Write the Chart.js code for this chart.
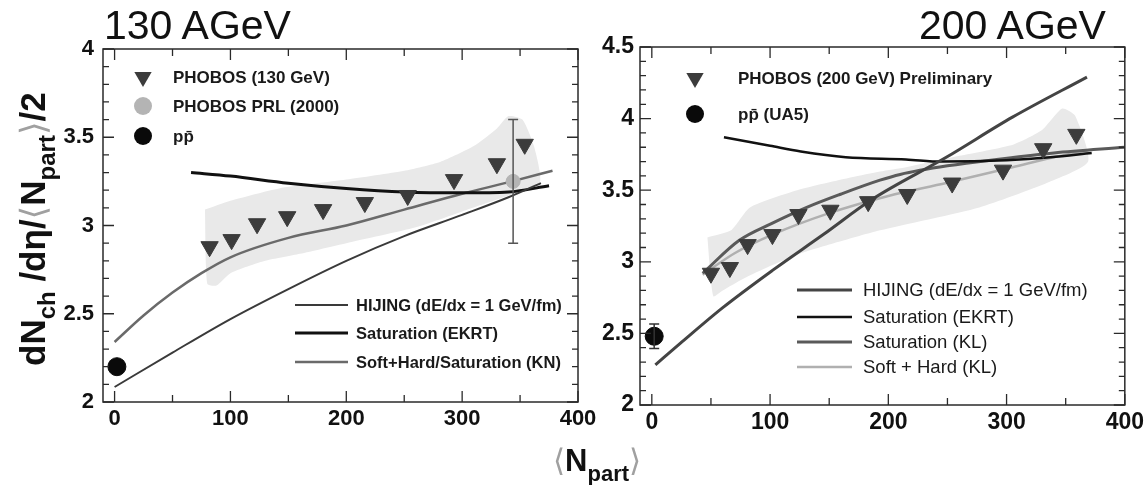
<!DOCTYPE html>
<html>
<head>
<meta charset="utf-8">
<script src="https://cdn.jsdelivr.net/npm/chart.js@4.4.0/dist/chart.umd.min.js"></script>
<style>
  body { margin: 0; background: #fff; width: 1148px; height: 485px; overflow: hidden; position: relative;
         font-family: "Liberation Sans", Arial, sans-serif; color: #111; }
  canvas { position: absolute; top: 0; }
  #c130 { left: 0; }
  #c200 { left: 580px; }
  .ptitle { position: absolute; font-size: 41px; line-height: 1; white-space: nowrap; color: #111; }
  .atitle { position: absolute; font-weight: bold; line-height: 1; white-space: nowrap; color: #111; }
  .ang { font-weight: normal; color: #a0a0a0; font-family: "DejaVu Sans", sans-serif; }
  #ytitle { left: 15px; top: 366px; font-size: 35px; transform: rotate(-90deg); transform-origin: left top; }
  #ytitle .sub { font-size: 24px; vertical-align: -10px; }
  #xtitle { left: 553px; top: 445px; font-size: 31px; }
  #xtitle .sub { font-size: 22px; vertical-align: -10px; }
</style>
</head>
<body>
<canvas id="c130" width="620" height="485"></canvas>
<canvas id="c200" width="568" height="485"></canvas>
<div class="ptitle" style="left:104px; top:5px;">130 AGeV</div>
<div class="ptitle" style="left:919px; top:5px;">200 AGeV</div>
<div id="ytitle" class="atitle">dN<span class="sub">ch</span> /dη/<span class="ang">⟨</span>N<span class="sub">part</span><span class="ang">⟩</span>/2</div>
<div id="xtitle" class="atitle"><span class="ang">⟨</span>N<span class="sub">part</span><span class="ang">⟩</span></div>
<script>
// ---------- 130 AGeV ----------
var npart130 = [82, 101, 123, 149, 180, 216, 253, 293, 330, 354];
var phobos130 = [2.88, 2.92, 3.01, 3.05, 3.09, 3.13, 3.17, 3.26, 3.35, 3.46];
var npartPrl = [344];
var phobosPrl = [3.25];
var phobosPrlErr = [0.35];
var npartPp = [2];
var ppbar130 = [2.20];

// systematic band (upper edge left->right, lower edge right->left)
var bandX130 = [78, 100, 142, 200, 250, 281, 310, 330, 340, 352, 362, 367, 340, 300, 260, 200, 160, 130, 100, 88, 80, 78];
var bandY130 = [3.09, 3.14, 3.21, 3.26, 3.31, 3.36, 3.45, 3.55, 3.62, 3.60, 3.45, 3.24, 3.17, 3.08, 2.99, 2.90, 2.84, 2.80, 2.73, 2.66, 2.67, 3.09];

var hijingX130 = [0, 50, 100, 150, 200, 250, 300, 340, 368];
var hijing130 = [2.085, 2.28, 2.47, 2.64, 2.80, 2.94, 3.06, 3.16, 3.24];
var ekrtX130 = [66, 100, 150, 200, 250, 300, 340, 375];
var ekrt130 = [3.30, 3.28, 3.24, 3.21, 3.19, 3.185, 3.19, 3.225];
var knX130 = [0, 25, 50, 75, 100, 150, 200, 250, 300, 343, 378];
var kn130 = [2.34, 2.49, 2.62, 2.73, 2.82, 2.93, 3.00, 3.09, 3.18, 3.25, 3.31];

// ---------- 200 AGeV ----------
var npart200 = [50, 66, 81, 102, 124, 151, 183, 216, 254, 297, 331, 359];
var phobos200 = [2.92, 2.96, 3.12, 3.19, 3.33, 3.36, 3.42, 3.47, 3.55, 3.64, 3.79, 3.89];
var ppbar200 = [2.48];
var ppbar200Err = [0.085];

var bandX200 = [47, 67, 83, 123, 169, 193, 215, 260, 306, 330, 347, 358, 369, 334, 277, 193, 150, 123, 100, 77, 60, 52, 47];
var bandY200 = [3.17, 3.22, 3.38, 3.50, 3.59, 3.63, 3.66, 3.74, 3.82, 3.92, 4.07, 4.02, 3.70, 3.55, 3.38, 3.22, 3.12, 3.05, 2.97, 2.88, 2.80, 2.76, 3.17];

var hijingX200 = [3, 24, 60, 102, 145, 187, 249, 305, 368];
var hijing200 = [2.28, 2.43, 2.68, 2.94, 3.19, 3.44, 3.73, 4.01, 4.29];
var ekrtX200 = [61, 100, 126, 164, 215, 245, 300, 337, 372];
var ekrt200 = [3.87, 3.81, 3.77, 3.73, 3.715, 3.70, 3.71, 3.73, 3.76];
var klSatX200 = [43, 74, 102, 131, 159, 193, 210, 250, 297, 340, 400];
var klSat200 = [2.92, 3.15, 3.27, 3.38, 3.47, 3.57, 3.61, 3.67, 3.72, 3.76, 3.80];
var softHardX200 = [43, 70, 102, 150, 200, 249, 305, 340, 370];
var softHard200 = [2.91, 3.06, 3.19, 3.34, 3.46, 3.55, 3.66, 3.73, 3.78];

// ---------- axes ----------
var xTicks = [0, 100, 200, 300, 400];
var yTicks130 = [2, 2.5, 3, 3.5, 4];
var yTicks200 = [2, 2.5, 3, 3.5, 4, 4.5];

var FONT = '"Liberation Sans", Arial, sans-serif';
Chart.defaults.font.family = FONT;

function pts(xs, ys) {
  return xs.map(function (x, i) { return {x: x, y: ys[i]}; });
}

function curve(xs, ys, color, width) {
  return {data: pts(xs, ys), borderColor: color, borderWidth: width, pointRadius: 0,
          showLine: true, fill: false, cubicInterpolationMode: 'monotone', order: 5};
}

function band(xs, ys) {
  return {data: pts(xs, ys), borderWidth: 0, borderColor: 'rgba(0,0,0,0)', backgroundColor: '#e9e9e9',
          pointRadius: 0, showLine: true, fill: 'shape', tension: 0.2, order: 10};
}

function markers(xs, ys, style, color, r) {
  return {data: pts(xs, ys), showLine: false, pointStyle: style, rotation: style === 'triangle' ? 180 : 0,
          pointRadius: r, pointBackgroundColor: color, pointBorderColor: color, pointBorderWidth: 1, order: 1};
}

function makeScales(yMin, yMax, yTicks, yWidth, yPad, fontSize) {
  var tickFont = {family: FONT, size: fontSize, weight: 'bold'};
  return {
    x: {
      type: 'linear', min: -10, max: 400,
      afterBuildTicks: function (s) { s.ticks = xTicks.map(function (v) { return {value: v}; }); },
      afterFit: function (s) { s.height = 40; },
      grid: {display: false, drawTicks: false}, border: {display: false},
      ticks: {padding: 4, font: tickFont, color: '#111', maxRotation: 0, autoSkip: false,
              callback: function (v) { return String(v); }}
    },
    y: {
      type: 'linear', min: yMin, max: yMax,
      afterBuildTicks: function (s) { s.ticks = yTicks.map(function (v) { return {value: v}; }); },
      afterFit: function (s) { s.width = yWidth; },
      grid: {display: false, drawTicks: false}, border: {display: false},
      ticks: {padding: yPad, font: tickFont, color: '#111', autoSkip: false,
              callback: function (v) { return String(v); }}
    }
  };
}

// frame, inner ticks, error bars and legend boxes
function makeDeco(cfg) {
  return {
    id: 'deco',
    afterDatasetsDraw: function (chart) {
      var ctx = chart.ctx, a = chart.chartArea, xs = chart.scales.x, ys = chart.scales.y;
      ctx.save();
      ctx.strokeStyle = '#2a2a2a';
      ctx.lineWidth = 1.5;
      ctx.strokeRect(a.left, a.top, a.right - a.left, a.bottom - a.top);
      ctx.lineWidth = 1.3;
      ctx.beginPath();
      for (var v = 0; v <= 400; v += 50) {
        var px = xs.getPixelForValue(v);
        var len = v % 100 === 0 ? 11 : 7;
        ctx.moveTo(px, a.bottom); ctx.lineTo(px, a.bottom - len);
        ctx.moveTo(px, a.top); ctx.lineTo(px, a.top + len);
      }
      for (var i = Math.round(ys.min * 10); i <= Math.round(ys.max * 10); i++) {
        var py = ys.getPixelForValue(i / 10);
        var l2 = i % 5 === 0 ? 11 : 6;
        ctx.moveTo(a.left, py); ctx.lineTo(a.left + l2, py);
        ctx.moveTo(a.right, py); ctx.lineTo(a.right - l2, py);
      }
      ctx.stroke();

      // error bars
      cfg.errors.forEach(function (e) {
        ctx.strokeStyle = e.color;
        ctx.lineWidth = e.width;
        ctx.beginPath();
        e.x.forEach(function (xv, k) {
          var px = xs.getPixelForValue(xv);
          var top = ys.getPixelForValue(e.y[k] + e.err[k]);
          var bot = ys.getPixelForValue(e.y[k] - e.err[k]);
          ctx.moveTo(px, top); ctx.lineTo(px, bot);
          ctx.moveTo(px - e.cap, top); ctx.lineTo(px + e.cap, top);
          ctx.moveTo(px - e.cap, bot); ctx.lineTo(px + e.cap, bot);
        });
        ctx.stroke();
      });

      // legends
      cfg.legend.forEach(function (it) {
        ctx.fillStyle = it.color;
        ctx.strokeStyle = it.color;
        if (it.type === 'tri') {
          var r = it.r;
          ctx.beginPath();
          ctx.moveTo(it.x, it.y + r);
          ctx.lineTo(it.x - r * 0.866, it.y - r * 0.5);
          ctx.lineTo(it.x + r * 0.866, it.y - r * 0.5);
          ctx.closePath();
          ctx.fill();
        } else if (it.type === 'circle') {
          ctx.beginPath();
          ctx.arc(it.x, it.y, it.r, 0, Math.PI * 2);
          ctx.fill();
        } else if (it.type === 'line') {
          ctx.lineWidth = it.w;
          ctx.beginPath();
          ctx.moveTo(it.x, it.y); ctx.lineTo(it.x2, it.y);
          ctx.stroke();
        }
        ctx.fillStyle = '#1a1a1a';
        ctx.font = it.font;
        ctx.textBaseline = 'middle';
        ctx.textAlign = 'left';
        ctx.fillText(it.text, it.tx, it.y + 1);
      });
      ctx.restore();
    }
  };
}

var f130a = 'bold 17px ' + FONT;
var f130b = 'bold 16.5px ' + FONT;
var legend130 = [
  {type: 'tri', x: 143, y: 77, r: 10, color: '#3c3c3c', tx: 173, text: 'PHOBOS (130 GeV)', font: f130a},
  {type: 'circle', x: 143, y: 106, r: 9, color: '#b4b4b4', tx: 173, text: 'PHOBOS PRL (2000)', font: f130a},
  {type: 'circle', x: 143, y: 136, r: 9, color: '#0a0a0a', tx: 173, text: 'pp\u0304', font: f130a},
  {type: 'line', x: 295, x2: 348, y: 305, w: 2, color: '#3a3a3a', tx: 356, text: 'HIJING (dE/dx = 1 GeV/fm)', font: f130b},
  {type: 'line', x: 295, x2: 348, y: 333, w: 3, color: '#111111', tx: 356, text: 'Saturation (EKRT)', font: f130b},
  {type: 'line', x: 295, x2: 348, y: 362, w: 2.5, color: '#6a6a6a', tx: 356, text: 'Soft+Hard/Saturation (KN)', font: f130b}
];

var f200a = 'bold 17px ' + FONT;
var f200b = '18.5px ' + FONT;
var legend200 = [
  {type: 'tri', x: 115, y: 78, r: 10, color: '#3c3c3c', tx: 158, text: 'PHOBOS (200 GeV) Preliminary', font: f200a},
  {type: 'circle', x: 115, y: 114, r: 9, color: '#0a0a0a', tx: 158, text: 'pp\u0304 (UA5)', font: f200a},
  {type: 'line', x: 217, x2: 272, y: 290, w: 3, color: '#444444', tx: 283, text: 'HIJING (dE/dx = 1 GeV/fm)', font: f200b},
  {type: 'line', x: 217, x2: 272, y: 317, w: 2.5, color: '#111111', tx: 283, text: 'Saturation (EKRT)', font: f200b},
  {type: 'line', x: 217, x2: 272, y: 342, w: 3, color: '#5a5a5a', tx: 283, text: 'Saturation (KL)', font: f200b},
  {type: 'line', x: 217, x2: 272, y: 367, w: 2.5, color: '#b0b0b0', tx: 283, text: 'Soft + Hard (KL)', font: f200b}
];

new Chart(document.getElementById('c130').getContext('2d'), {
  type: 'line',
  data: {
    datasets: [
      markers(npart130, phobos130, 'triangle', '#3c3c3c', 10),
      markers(npartPrl, phobosPrl, 'circle', '#b4b4b4', 7),
      markers(npartPp, ppbar130, 'circle', '#0a0a0a', 9),
      curve(hijingX130, hijing130, '#3a3a3a', 2),
      curve(ekrtX130, ekrt130, '#111111', 3),
      curve(knX130, kn130, '#6a6a6a', 2.5),
      band(bandX130, bandY130)
    ]
  },
  options: {
    responsive: false, animation: false,
    layout: {padding: {left: 0, right: 42, top: 49, bottom: 43}},
    scales: makeScales(2, 4, yTicks130, 103, 9, 22),
    plugins: {legend: {display: false}, tooltip: {enabled: false}}
  },
  plugins: [makeDeco({
    errors: [{x: npartPrl, y: phobosPrl, err: phobosPrlErr, color: '#555555', width: 1.5, cap: 5}],
    legend: legend130
  })]
});

new Chart(document.getElementById('c200').getContext('2d'), {
  type: 'line',
  data: {
    datasets: [
      markers(npart200, phobos200, 'triangle', '#3c3c3c', 10),
      markers(npartPp, ppbar200, 'circle', '#0a0a0a', 9),
      curve(hijingX200, hijing200, '#444444', 3),
      curve(ekrtX200, ekrt200, '#111111', 2.5),
      curve(klSatX200, klSat200, '#5a5a5a', 3),
      curve(softHardX200, softHard200, '#b0b0b0', 2.5),
      band(bandX200, bandY200)
    ]
  },
  options: {
    responsive: false, animation: false,
    layout: {padding: {left: 0, right: 23, top: 47, bottom: 40}},
    scales: makeScales(2, 4.5, yTicks200, 60, 6, 23),
    plugins: {legend: {display: false}, tooltip: {enabled: false}}
  },
  plugins: [makeDeco({
    errors: [{x: npartPp, y: ppbar200, err: ppbar200Err, color: '#333333', width: 1.5, cap: 5}],
    legend: legend200
  })]
});
</script>
</body>
</html>
